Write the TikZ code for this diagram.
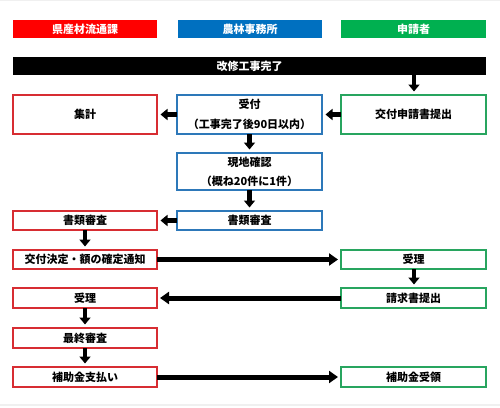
\documentclass[tikz,border=0pt]{standalone}
\usepackage{fontspec}
\setmainfont{Noto Sans CJK JP}
\usetikzlibrary{arrows.meta}
\definecolor{hdred}{RGB}{255,0,0}
\definecolor{hdblue}{RGB}{0,112,192}
\definecolor{hdgreen}{RGB}{0,176,80}
\definecolor{bdred}{RGB}{215,45,50}
\definecolor{bdblue}{RGB}{45,120,185}
\definecolor{bdgreen}{RGB}{40,165,95}
\tikzset{
  lbl/.style={font=\fontsize{11}{19.5}\selectfont\bfseries, align=center, inner sep=0pt},
  rbox/.style={draw=bdred, line width=1.2pt, fill=white},
  bbox/.style={draw=bdblue, line width=1.2pt, fill=white},
  gbox/.style={draw=bdgreen, line width=1.2pt, fill=white},
  flow/.style={line width=4.5pt, -{Triangle[width=11pt,length=7pt]}, shorten >=3.5pt},
  longflow/.style={line width=5pt, -{Triangle[width=12pt,length=9pt]}, shorten >=3pt},
}
\begin{document}
\begin{tikzpicture}[x=1pt,y=-1pt]
\useasboundingbox (0,0) rectangle (500,407);
\fill[white] (0,0) rectangle (500,407);
\draw[gray!12, line width=1pt] (0,0.5) -- (500,0.5);
\draw[gray!12, line width=2pt] (0,405) -- (500,405);
% headers
\fill[hdred] (13,20) rectangle (157,38);
\fill[hdblue] (178,20) rectangle (322,38);
\fill[hdgreen] (341,20) rectangle (486,38);
\node[lbl, text=white] (h1) at (85,29) {県産材流通課};
\node[lbl, text=white] (h2) at (250,29) {農林事務所};
\node[lbl, text=white] (h3) at (413.5,29) {申請者};
% bar
\fill[black] (13,57) rectangle (486,75);
\node[lbl, text=white] (bar) at (249.5,66) {改修工事完了};
\coordinate (barout) at (414,75);
% boxes
\draw[rbox] (13,95) rectangle (157,134);
\node[lbl] (shukei) at (85,114.5) {集計};
\coordinate (shukeiE) at (157,114.5);
\draw[bbox] (177,95) rectangle (322,134);
\node[lbl] (uketsuke) at (249.5,114.5) {受付\\（工事完了後90日以内）};
\coordinate (uketsukeW) at (177,114.5);
\coordinate (uketsukeE) at (322,114.5);
\coordinate (uketsukeS) at (249.5,134);
\draw[gbox] (341,95) rectangle (486,134);
\node[lbl] (shinsei) at (413.5,114.5) {交付申請書提出};
\coordinate (shinseiW) at (341,114.5);
\coordinate (shinseiN) at (414,95);

\draw[bbox] (177,153) rectangle (322,190);
\node[lbl] (genchi) at (249.5,172) {現地確認\\（概ね20件に1件）};
\coordinate (genchiN) at (249.5,153);
\coordinate (genchiS) at (249.5,190);

\draw[rbox] (13,211) rectangle (157,230);
\node[lbl] (shoruiR) at (85,220.5) {書類審査};
\coordinate (shoruiRE) at (157,220.5);
\coordinate (shoruiRS) at (85,230);
\draw[bbox] (177,211) rectangle (322,230);
\node[lbl] (shoruiB) at (249.5,220.5) {書類審査};
\coordinate (shoruiBN) at (249.5,211);
\coordinate (shoruiBW) at (177,220.5);

\draw[rbox] (13,250) rectangle (157,269);
\node[lbl] (kettei) at (85,259.5) {交付決定・額の確定通知};
\coordinate (ketteiN) at (85,250);
\coordinate (ketteiE) at (157,259.5);
\draw[gbox] (341,250) rectangle (486,269);
\node[lbl] (juriG) at (413.5,259.5) {受理};
\coordinate (juriGW) at (341,259.5);
\coordinate (juriGS) at (414,269);

\draw[rbox] (13,288) rectangle (157,308);
\node[lbl] (juriR) at (85,298) {受理};
\coordinate (juriRE) at (157,298);
\coordinate (juriRS) at (85,308);
\draw[gbox] (341,288) rectangle (486,308);
\node[lbl] (seikyu) at (413.5,298) {請求書提出};
\coordinate (seikyuW) at (341,298);
\coordinate (seikyuN) at (414,288);

\draw[rbox] (13,328) rectangle (157,348);
\node[lbl] (saishu) at (85,338) {最終審査};
\coordinate (saishuN) at (85,328);
\coordinate (saishuS) at (85,348);

\draw[rbox] (13,367) rectangle (157,387);
\node[lbl] (shiharai) at (85,377) {補助金支払い};
\coordinate (shiharaiN) at (85,367);
\coordinate (shiharaiE) at (157,377);
\draw[gbox] (341,367) rectangle (486,387);
\node[lbl] (juryo) at (413.5,377) {補助金受領};
\coordinate (juryoW) at (341,377);

% arrows
\draw[flow] (barout) -- (shinseiN);
\draw[flow] (shinseiW) -- (uketsukeE);
\draw[flow] (uketsukeW) -- (shukeiE);
\draw[flow] (uketsukeS) -- (genchiN);
\draw[flow] (genchiS) -- (shoruiBN);
\draw[flow] (shoruiBW) -- (shoruiRE);
\draw[flow] (shoruiRS) -- (ketteiN);
\draw[longflow] (ketteiE) -- (juriGW);
\draw[flow] (juriGS) -- (seikyuN);
\draw[longflow] (seikyuW) -- (juriRE);
\draw[flow] (juriRS) -- (saishuN);
\draw[flow] (saishuS) -- (shiharaiN);
\draw[longflow] (shiharaiE) -- (juryoW);
\end{tikzpicture}
\end{document}
